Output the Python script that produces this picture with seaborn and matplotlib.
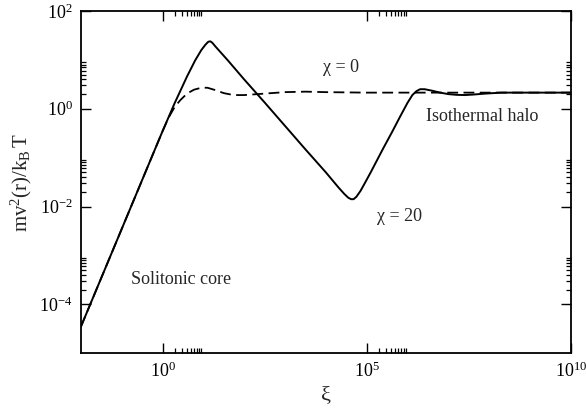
import matplotlib

matplotlib.use("Agg")

import matplotlib.pyplot as plt
import numpy as np
import pandas as pd
import seaborn as sns
from matplotlib.ticker import FixedLocator, NullFormatter

# log10 values
log_xi_chi20 = [-2.0, -1.0, 0.0, 0.3, 0.6, 0.8, 0.95, 1.05, 1.12, 1.17,
                1.22, 1.3, 1.45, 1.6, 2.0, 2.5, 3.0, 3.5, 4.0, 4.3, 4.45,
                4.55, 4.62, 4.68, 4.75, 4.85, 4.95, 5.1, 5.25, 5.4, 5.62,
                5.82, 6.0, 6.12, 6.22, 6.31, 6.42, 6.6, 6.8, 7.0, 7.2,
                7.4, 7.6, 7.9, 8.3, 10.0]
log_v2_chi20 = [-4.46, -2.46, -0.46, 0.12, 0.66, 0.99, 1.20, 1.31, 1.37,
                1.38, 1.35, 1.27, 1.13, 0.99, 0.60, 0.13, -0.35, -0.83,
                -1.30, -1.60, -1.74, -1.82, -1.85, -1.85, -1.80, -1.68,
                -1.53, -1.30, -1.06, -0.82, -0.48, -0.16, 0.12, 0.28, 0.36,
                0.40, 0.40, 0.37, 0.33, 0.30, 0.285, 0.28, 0.29, 0.31, 0.33,
                0.33]

log_xi_chi0 = [-2.0, -1.0, 0.0, 0.15, 0.3, 0.44, 0.6, 0.77, 0.95, 1.1, 1.3,
               1.5, 1.74, 2.0, 2.5, 3.0, 3.5, 4.0, 5.0, 10.0]
log_v2_chi0 = [-4.46, -2.46, -0.46, -0.18, 0.04, 0.18, 0.31, 0.39, 0.43,
               0.43, 0.38, 0.32, 0.28, 0.28, 0.31, 0.34, 0.35, 0.34, 0.33,
               0.33]

x_major = [1e0, 1e5, 1e10]
y_major = [1e-4, 1e-2, 1e0, 1e2]
x_labels = ["$10^{0}$", "$10^{5}$", "$10^{10}$"]
y_labels = ["$10^{-4}$", "$10^{-2}$", "$10^{0}$", "$10^{2}$"]


def main() -> None:
    sns.set_style("ticks")
    plt.rcParams["font.family"] = ["Liberation Serif", "DejaVu Serif"]
    plt.rcParams["mathtext.fontset"] = "custom"
    plt.rcParams["mathtext.rm"] = "Liberation Serif"
    plt.rcParams["mathtext.it"] = "Liberation Serif:italic"

    df20 = pd.DataFrame({"xi": 10.0 ** np.array(log_xi_chi20),
                         "v2": 10.0 ** np.array(log_v2_chi20)})
    df0 = pd.DataFrame({"xi": 10.0 ** np.array(log_xi_chi0),
                        "v2": 10.0 ** np.array(log_v2_chi0)})

    fig, ax = plt.subplots(figsize=(5.86, 4.15), dpi=100)
    fig.subplots_adjust(left=0.138, right=0.974, top=0.9735, bottom=0.149)

    sns.lineplot(data=df20, x="xi", y="v2", ax=ax, color="black",
                 linewidth=1.4, sort=False, estimator=None)
    sns.lineplot(data=df0, x="xi", y="v2", ax=ax, color="black",
                 linewidth=1.3, sort=False, estimator=None,
                 dashes=False, linestyle=(0, (6, 3)))

    ax.set_xscale("log")
    ax.set_yscale("log")
    ax.set_xlim(1e-2, 1e10)
    ax.set_ylim(1e-5, 1e2)

    ax.xaxis.set_major_locator(FixedLocator(x_major))
    ax.yaxis.set_major_locator(FixedLocator(y_major))
    ax.xaxis.set_minor_locator(FixedLocator(
        [k * d for d in (1e0, 1e5) for k in range(2, 10)]))
    ax.yaxis.set_minor_locator(FixedLocator(
        [k * d for d in (1e-4, 1e-2, 1e0) for k in range(2, 10)]))
    ax.xaxis.set_minor_formatter(NullFormatter())
    ax.yaxis.set_minor_formatter(NullFormatter())
    ax.set_xticklabels(x_labels)
    ax.set_yticklabels(y_labels)

    ax.tick_params(which="both", direction="in", top=True, right=True,
                   colors="black", labelsize=13)
    ax.tick_params(which="major", length=7, width=1, pad=6)
    ax.tick_params(which="minor", length=3.6, width=0.9)
    for spine in ax.spines.values():
        spine.set_linewidth(1.3)
        spine.set_color("black")

    ax.set_xlabel("ξ", fontsize=16, labelpad=4)
    ax.set_ylabel(r"$\mathrm{mv^2(r)/k_B\,T}$", fontsize=15, labelpad=4)

    ax.text(0.53, 0.835, "χ = 0", transform=ax.transAxes, fontsize=13,
            ha="center", va="center")
    ax.text(0.705, 0.692, "Isothermal halo", transform=ax.transAxes,
            fontsize=13, ha="left", va="center")
    ax.text(0.605, 0.398, "χ = 20", transform=ax.transAxes, fontsize=13,
            ha="left", va="center")
    ax.text(0.102, 0.216, "Solitonic core", transform=ax.transAxes,
            fontsize=13, ha="left", va="center")

    fig.savefig("out.png", dpi=100)
    plt.close(fig)


if __name__ == "__main__":
    main()
